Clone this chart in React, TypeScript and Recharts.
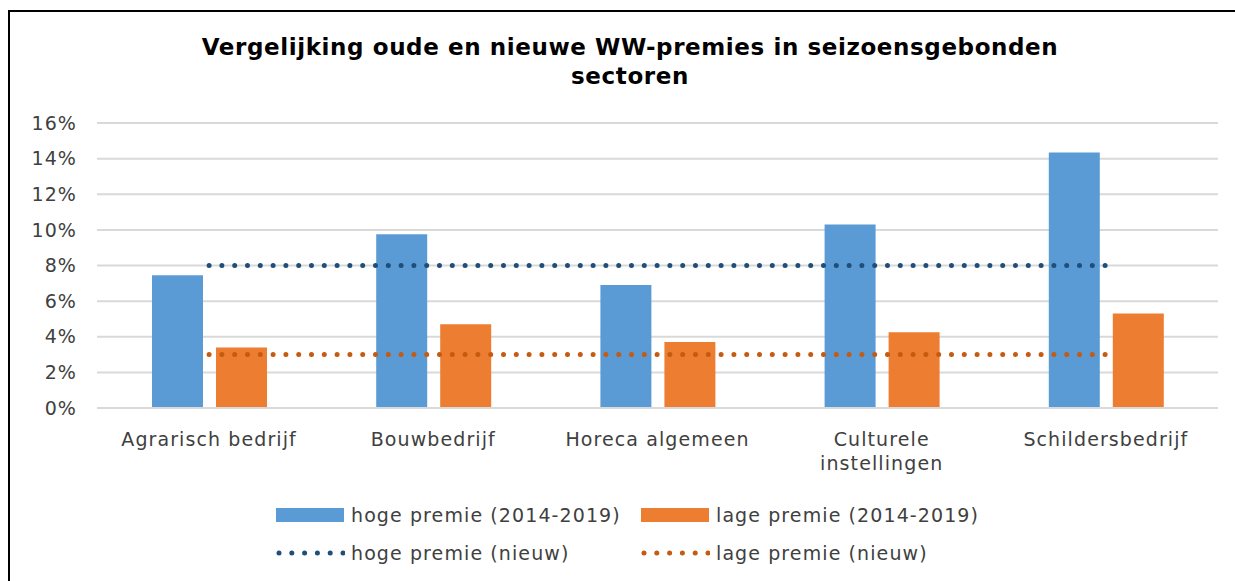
import React from "react";
import {
  ComposedChart,
  Bar,
  Line,
  XAxis,
  YAxis,
  CartesianGrid,
} from "recharts";

const categories = [
  "Agrarisch bedrijf",
  "Bouwbedrijf",
  "Horeca algemeen",
  "Culturele instellingen",
  "Schildersbedrijf",
];
const hogeOud = [7.45, 9.75, 6.9, 10.3, 14.35];
const lageOud = [3.4, 4.7, 3.7, 4.25, 5.3];
const hogeNieuw = [8, 8, 8, 8, 8];
const lageNieuw = [3, 3, 3, 3, 3];
const yTicks = [0, 2, 4, 6, 8, 10, 12, 14, 16];

const seriesNames = {
  hogeOud: "hoge premie (2014-2019)",
  lageOud: "lage premie (2014-2019)",
  hogeNieuw: "hoge premie (nieuw)",
  lageNieuw: "lage premie (nieuw)",
};

const data = categories.map((name, i) => ({
  name,
  hogeOud: hogeOud[i],
  lageOud: lageOud[i],
  hogeNieuw: hogeNieuw[i],
  lageNieuw: lageNieuw[i],
}));

const BLUE = "#5B9BD5";
const ORANGE = "#ED7D31";
const DARK_BLUE = "#1F4E79";
const DARK_ORANGE = "#C55A11";
const TEXT = "#404040";
const FONT = "'DejaVu Sans', Verdana, sans-serif";
const SPACING = 1.1;

// split long labels over two lines, like Excel does
function wrap(label: string): string[] {
  if (label.length <= 18 || label.indexOf(" ") < 0) return [label];
  const words = label.split(" ");
  const lines: string[] = [];
  let cur = "";
  words.forEach((w) => {
    if (cur && (cur + " " + w).length > 12) {
      lines.push(cur);
      cur = w;
    } else {
      cur = cur ? cur + " " + w : w;
    }
  });
  if (cur) lines.push(cur);
  return lines;
}

function CategoryTick(props: any) {
  const { x, y, payload } = props;
  const lines = wrap(String(payload.value));
  return (
    <text
      x={x}
      y={y}
      textAnchor="middle"
      fill={TEXT}
      fontSize={19}
      fontFamily={FONT}
      letterSpacing={SPACING}
    >
      {lines.map((l, i) => (
        <tspan key={i} x={x} dy={i === 0 ? 36 : 24}>
          {l}
        </tspan>
      ))}
    </text>
  );
}

function Swatch({ kind, color }: { kind: "bar" | "dots"; color: string }) {
  return (
    <svg width={70} height={16} style={{ display: "block" }}>
      {kind === "bar" ? (
        <rect x={1} y={1} width={68} height={14} fill={color} />
      ) : (
        <line
          x1={4}
          y1={8}
          x2={69}
          y2={8}
          stroke={color}
          strokeWidth={5}
          strokeDasharray="0 12.8"
          strokeLinecap="round"
        />
      )}
    </svg>
  );
}

function LegendItem({
  left,
  top,
  kind,
  color,
  label,
}: {
  left: number;
  top: number;
  kind: "bar" | "dots";
  color: string;
  label: string;
}) {
  return (
    <div
      style={{
        position: "absolute",
        left,
        top,
        display: "flex",
        alignItems: "center",
        gap: 6,
        whiteSpace: "nowrap",
      }}
    >
      <Swatch kind={kind} color={color} />
      <span
        style={{
          fontFamily: FONT,
          fontSize: 19,
          letterSpacing: SPACING,
          color: TEXT,
          lineHeight: "24px",
        }}
      >
        {label}
      </span>
    </div>
  );
}

export default function App() {
  return (
    <div
      style={{
        position: "absolute",
        left: 0,
        top: 0,
        width: 1235,
        height: 581,
        overflow: "hidden",
        background: "#fff",
      }}
    >
      <div
        style={{
          position: "absolute",
          left: 8,
          top: 10,
          width: 1300,
          height: 700,
          border: "2px solid #000",
        }}
      />
      <div
        style={{
          position: "absolute",
          left: 130,
          width: 1000,
          top: 33,
          textAlign: "center",
          fontFamily: FONT,
          fontWeight: "bold",
          fontSize: 23,
          letterSpacing: 0.6,
          lineHeight: "29px",
          color: "#000",
        }}
      >
        Vergelijking oude en nieuwe WW-premies in seizoensgebonden
        <br />
        sectoren
      </div>
      <div style={{ position: "absolute", left: 0, top: 0 }}>
        <ComposedChart
          width={1235}
          height={581}
          data={data}
          margin={{ top: 123, right: 17, bottom: 113, left: 0 }}
          barGap={13}
        >
          <CartesianGrid
            vertical={false}
            stroke="#D9D9D9"
            strokeWidth={2}
          />
          <XAxis
            dataKey="name"
            height={60}
            axisLine={{ stroke: "#D9D9D9", strokeWidth: 2 }}
            tickLine={false}
            tickSize={0}
            interval={0}
            tick={<CategoryTick />}
          />
          <YAxis
            width={97}
            domain={[0, 16]}
            ticks={yTicks}
            axisLine={false}
            tickLine={false}
            tickSize={0}
            tickMargin={20}
            tickFormatter={(v) => `${v}%`}
            tick={{
              fill: TEXT,
              fontSize: 19,
              fontFamily: FONT,
              letterSpacing: SPACING,
            }}
          />
          <Bar
            dataKey="hogeOud"
            name={seriesNames.hogeOud}
            fill={BLUE}
            barSize={51}
            isAnimationActive={false}
          />
          <Bar
            dataKey="lageOud"
            name={seriesNames.lageOud}
            fill={ORANGE}
            barSize={51}
            isAnimationActive={false}
          />
          <Line
            dataKey="hogeNieuw"
            name={seriesNames.hogeNieuw}
            type="linear"
            stroke={DARK_BLUE}
            strokeWidth={5}
            strokeDasharray="0 12.8"
            strokeLinecap="round"
            dot={false}
            activeDot={false}
            isAnimationActive={false}
          />
          <Line
            dataKey="lageNieuw"
            name={seriesNames.lageNieuw}
            type="linear"
            stroke={DARK_ORANGE}
            strokeWidth={5}
            strokeDasharray="0 12.8"
            strokeLinecap="round"
            dot={false}
            activeDot={false}
            isAnimationActive={false}
          />
        </ComposedChart>
      </div>
      <LegendItem left={275} top={503} kind="bar" color={BLUE} label={seriesNames.hogeOud} />
      <LegendItem left={640} top={503} kind="bar" color={ORANGE} label={seriesNames.lageOud} />
      <LegendItem left={275} top={541} kind="dots" color={DARK_BLUE} label={seriesNames.hogeNieuw} />
      <LegendItem left={640} top={541} kind="dots" color={DARK_ORANGE} label={seriesNames.lageNieuw} />
    </div>
  );
}
